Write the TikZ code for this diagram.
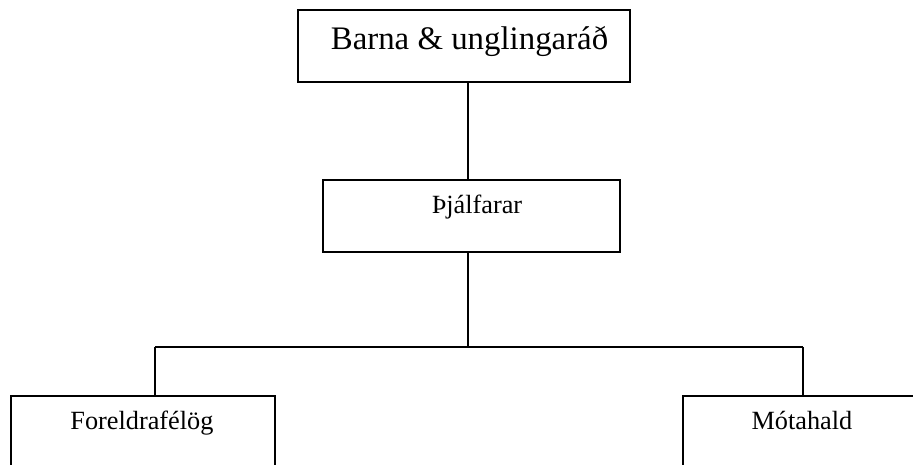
\documentclass[tikz,border=0pt]{standalone}
\usepackage{fontspec}
\setmainfont{Liberation Serif}

\tikzstyle{unit}=[shape=rectangle,draw=black,line width=0.9pt,minimum height=32.9pt,inner sep=0pt]
\tikzstyle{caption}=[anchor=base,font=\fontsize{12}{14}\selectfont]
\tikzstyle{link}=[draw=black,line width=0.9pt]

\begin{document}
\begin{tikzpicture}[x=1pt,y=1pt]
\useasboundingbox (0,0) rectangle (416.9,-211.9);
\clip (0,0) rectangle (416.9,-211.9);
% boxes
\node[unit,minimum width=151.6pt] (board) at (211.9,-21.2)
    [label={[caption,font=\fontsize{15}{18}\selectfont,yshift=-18.3pt,xshift=2.5pt]north:Barna \& unglingaráð}] {};
\node[unit,minimum width=135.6pt] (coaches) at (215.3,-98.6)
    [label={[caption,yshift=-16pt,xshift=2.5pt]north:Þjálfarar}] {};
\node[unit,minimum width=120.5pt] (parents) at (65.3,-197.3)
    [label={[caption,yshift=-15.5pt,xshift=-0.5pt]north:Foreldrafélög}] {};
\node[unit,minimum width=108.7pt] (meets) at (366.2,-197.3)
    [label={[caption,yshift=-15.5pt]north:Mótahald}] {};
% connectors
\coordinate (split) at (213.7,-158.4);
\coordinate (barL) at (70.8,-158.4);
\coordinate (barR) at (366.6,-158.4);
\draw[link] (board.south -| split) -- (coaches.north -| split);
\draw[link] (coaches.south -| split) -- (split);
\draw[link] (barL) -- (barR);
\draw[link] (barL) -- (barL |- parents.north);
\draw[link] (barR) -- (barR |- meets.north);
\end{tikzpicture}
\end{document}
